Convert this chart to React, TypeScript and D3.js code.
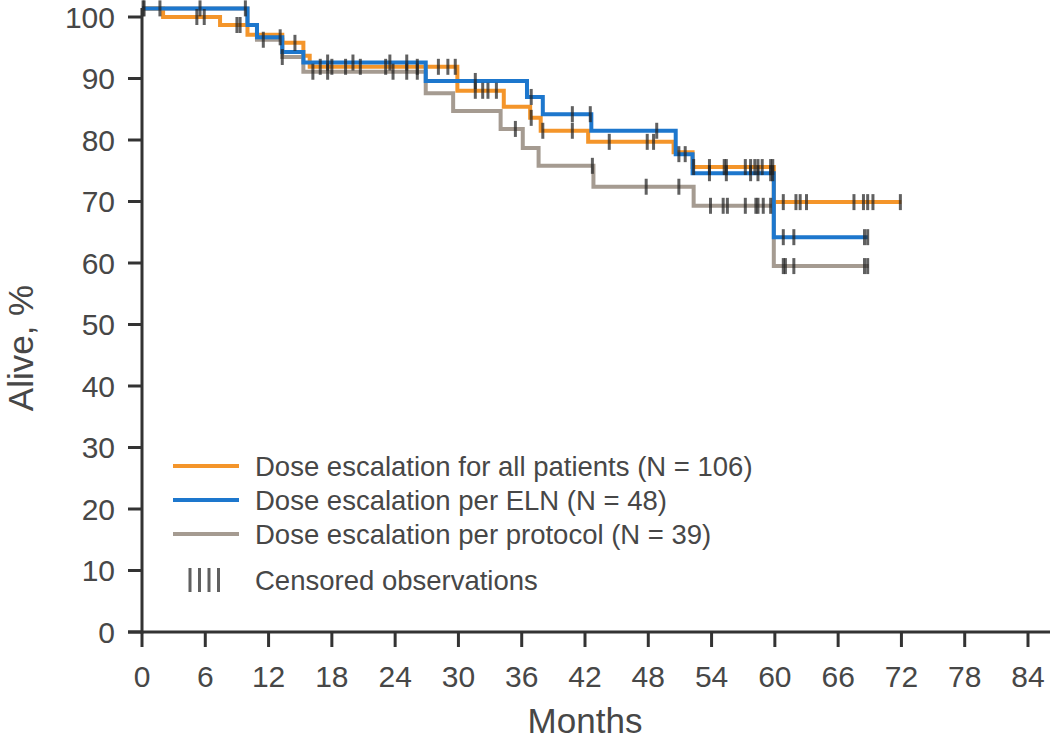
import React from "react";
import * as d3 from "d3";

// ---- Data ----
const monthTicks = [0, 6, 12, 18, 24, 30, 36, 42, 48, 54, 60, 66, 72, 78, 84];
const percentTicks = [0, 10, 20, 30, 40, 50, 60, 70, 80, 90, 100];

// Dose escalation for all patients (N = 106)
const allTimes = [0, 2.0, 7.4, 10.0, 13.3, 15.3, 15.9, 29.9, 34.3, 36.8, 37.8, 42.3, 50.4, 52.2, 59.9];
const allSurv = [101.4, 100.0, 98.7, 97.1, 95.8, 93.7, 91.9, 88.0, 85.4, 83.6, 81.5, 79.7, 78.0, 75.6, 69.9];
const allEnd = 72.0;
const allCensored = [0.2, 1.7, 5.2, 5.9, 9.0, 9.3, 14.5, 16.9, 18.0, 19.3, 20.7, 23.1, 26.1, 28.1, 29.0, 29.7,
  31.6, 32.3, 32.8, 33.6, 36.9, 38.0, 40.8, 44.3, 47.9, 48.5, 52.3, 53.8, 55.2, 55.4, 57.2, 57.7, 58.1, 58.4,
  58.8, 59.6, 59.8, 60.8, 62.0, 62.4, 63.0, 67.5, 68.4, 68.8, 69.3, 71.9];

// Dose escalation per ELN (N = 48)
const elnTimes = [0, 10.0, 10.9, 13.3, 15.3, 26.9, 36.5, 38.0, 42.6, 50.6, 52.2, 59.9];
const elnSurv = [101.4, 98.7, 96.7, 94.3, 92.6, 89.6, 87.0, 84.2, 81.5, 77.7, 74.6, 64.2];
const elnEnd = 68.8;
const elnCensored = [0.1, 5.5, 13.1, 17.6, 20.0, 23.5, 25.1, 31.6, 36.9, 40.8, 42.5, 48.8, 50.9, 51.5,
  53.8, 55.4, 57.7, 58.4, 59.6, 59.8, 60.8, 61.8, 68.5, 68.8];

// Dose escalation per protocol (N = 39)
const protoTimes = [0, 10.0, 10.9, 13.3, 15.3, 26.9, 29.5, 34.0, 36.1, 37.6, 42.8, 52.3, 59.9];
const protoSurv = [101.4, 98.7, 96.3, 93.5, 91.1, 87.6, 84.7, 81.8, 78.7, 75.8, 72.4, 69.3, 59.5];
const protoEnd = 68.9;
const protoCensored = [9.8, 11.5, 13.3, 16.2, 17.6, 23.8, 25.1, 26.1, 35.4, 42.7, 47.8, 50.9, 53.9, 55.1,
  55.5, 57.2, 58.2, 58.4, 58.9, 59.6, 60.8, 61.0, 61.8, 68.5, 68.8];

const legendLabels = [
  "Dose escalation for all patients (N = 106)",
  "Dose escalation per ELN (N = 48)",
  "Dose escalation per protocol (N = 39)",
];
const censoredLabel = "Censored observations";
const xTitle = "Months";
const yTitle = "Alive, %";

const colors = { all: "#f4952a", eln: "#1d77cd", proto: "#a59b91" };

const series = [
  { key: "proto", times: protoTimes, surv: protoSurv, end: protoEnd, censored: protoCensored, color: colors.proto },
  { key: "all", times: allTimes, surv: allSurv, end: allEnd, censored: allCensored, color: colors.all },
  { key: "eln", times: elnTimes, surv: elnSurv, end: elnEnd, censored: elnCensored, color: colors.eln },
];

const legendItems = [
  { label: legendLabels[0], color: colors.all },
  { label: legendLabels[1], color: colors.eln },
  { label: legendLabels[2], color: colors.proto },
];

const FONT = "'Liberation Sans', Arial, Helvetica, sans-serif";
const TEXT = "#474747";
const AXIS = "#333333";

export default function App() {
  const W = 1050;
  const H = 741;
  const x = d3.scaleLinear().domain([0, 84]).range([142, 1028]);
  const y = d3.scaleLinear().domain([0, 100]).range([632, 17]);

  const line = d3
    .line<[number, number]>()
    .x((d) => x(d[0]))
    .y((d) => y(d[1]))
    .curve(d3.curveStepAfter);

  const valueAt = (times: number[], surv: number[], t: number) => {
    const i = Math.max(0, d3.bisectRight(times, t) - 1);
    return surv[i];
  };

  const legendY = [466, 500, 534];
  const censorLegendY = 580;

  return (
    <svg width={W} height={H} style={{ position: "absolute", left: 0, top: 0, background: "#fff" }}>
      {/* curves */}
      {series.map((s) => {
        const pts: [number, number][] = s.times.map((t, i) => [t, s.surv[i]] as [number, number]);
        pts.push([s.end, s.surv[s.surv.length - 1]]);
        return (
          <path key={s.key} d={line(pts) || ""} fill="none" stroke={s.color} strokeWidth={4} />
        );
      })}
      {/* censor marks */}
      {series.map((s) => (
        <g key={s.key + "-c"}>
          {s.censored.map((t, i) => {
            const v = valueAt(s.times, s.surv, t);
            return (
              <line
                key={i}
                x1={x(t)}
                x2={x(t)}
                y1={y(v) - 8}
                y2={y(v) + 8}
                stroke="#222"
                strokeOpacity={0.72}
                strokeWidth={3}
              />
            );
          })}
        </g>
      ))}

      {/* y axis */}
      <line x1={x(0)} x2={x(0)} y1={8} y2={y(0) + 1.5} stroke={AXIS} strokeWidth={3} />
      {percentTicks.map((p) => (
        <g key={"yt" + p}>
          <line x1={x(0) - 14} x2={x(0)} y1={y(p)} y2={y(p)} stroke={AXIS} strokeWidth={3} />
          <text
            x={115}
            y={y(p)}
            dy="0.36em"
            textAnchor="end"
            fontFamily={FONT}
            fontSize={30}
            fill={TEXT}
          >
            {p}
          </text>
        </g>
      ))}
      <text
        transform={`translate(33, ${348}) rotate(-90)`}
        textAnchor="middle"
        fontFamily={FONT}
        fontSize={35}
        fill={TEXT}
      >
        {yTitle}
      </text>

      {/* x axis */}
      <line x1={x(0) - 14} x2={W} y1={y(0)} y2={y(0)} stroke={AXIS} strokeWidth={3} />
      {monthTicks.map((m) => (
        <g key={"xt" + m}>
          <line x1={x(m)} x2={x(m)} y1={y(0)} y2={y(0) + 15} stroke={AXIS} strokeWidth={3} />
          <text x={x(m)} y={687} textAnchor="middle" fontFamily={FONT} fontSize={30} fill={TEXT}>
            {m}
          </text>
        </g>
      ))}
      <text x={585} y={733} textAnchor="middle" fontFamily={FONT} fontSize={35} fill={TEXT}>
        {xTitle}
      </text>

      {/* legend */}
      {legendItems.map((it, i) => (
        <g key={"lg" + i}>
          <line x1={173} x2={239} y1={legendY[i]} y2={legendY[i]} stroke={it.color} strokeWidth={4} />
          <text x={255} y={legendY[i]} dy="0.36em" fontFamily={FONT} fontSize={27.5} fill={TEXT}>
            {it.label}
          </text>
        </g>
      ))}
      {[0, 1, 2, 3].map((k) => (
        <line
          key={"cl" + k}
          x1={190 + k * 9.5}
          x2={190 + k * 9.5}
          y1={censorLegendY - 12}
          y2={censorLegendY + 12}
          stroke="#222"
          strokeOpacity={0.72}
          strokeWidth={3}
        />
      ))}
      <text x={255} y={censorLegendY} dy="0.36em" fontFamily={FONT} fontSize={27.5} fill={TEXT}>
        {censoredLabel}
      </text>
    </svg>
  );
}
